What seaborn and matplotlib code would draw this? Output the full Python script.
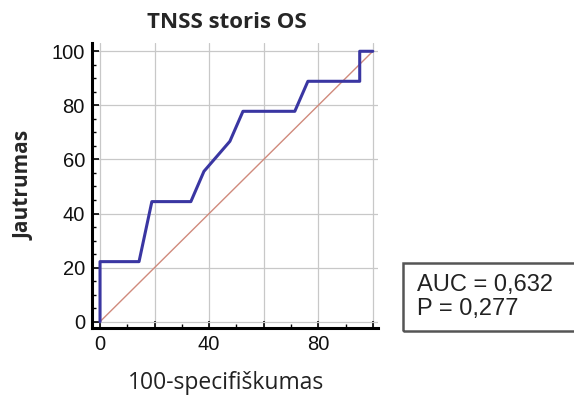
import matplotlib
matplotlib.use("Agg")
import matplotlib.pyplot as plt
import matplotlib.patches as mpatches
from matplotlib.ticker import MultipleLocator
import pandas as pd
import seaborn as sns

# ROC taskai (100-specifiškumas, jautrumas)
fpr = [0, 0, 14.3, 19.0, 33.3, 38.1, 47.6, 52.4, 71.4, 76.2, 95.2, 95.2, 100]
tpr = [0, 22.2, 22.2, 44.4, 44.4, 55.6, 66.7, 77.8, 77.8, 88.9, 88.9, 100, 100]
diag = [0, 100]
title = "TNSS storis OS"
auc_txt = "AUC = 0,632\nP = 0,277"

sns.set_style("whitegrid")
plt.rcParams['font.family'] = ['Liberation Sans', 'DejaVu Sans']

fig = plt.figure(figsize=(5.74, 3.96), dpi=100)
ax = fig.add_axes([0.160, 0.172, 0.499, 0.719])

df = pd.DataFrame({"x": fpr, "y": tpr})
sns.lineplot(data=pd.DataFrame({"x": diag, "y": diag}), x="x", y="y",
             color="#d08a7c", lw=1.0, ax=ax)
sns.lineplot(data=df, x="x", y="y", sort=False, estimator=None,
             color="#3a36a2", lw=2.2, ax=ax)

ax.set_xlim(-3, 102)
ax.set_ylim(-2.3, 103)
ax.xaxis.set_major_locator(MultipleLocator(20))
ax.yaxis.set_major_locator(MultipleLocator(20))
ax.xaxis.set_minor_locator(MultipleLocator(10))
ax.yaxis.set_minor_locator(MultipleLocator(5))
ax.set_xticks([0, 20, 40, 60, 80, 100])
ax.set_xticklabels(["0", "", "40", "", "80", ""])
ax.grid(True, which="major", color="#c8c8c8", lw=0.9)
ax.grid(False, which="minor")
ax.tick_params(axis="both", which="major", direction="in", length=5, width=1.2,
               color="black", labelsize=14.5, pad=5, labelcolor="#111111")
ax.tick_params(axis="both", which="minor", direction="in", length=3, width=1,
               color="black")
ax.tick_params(bottom=True, left=True, which="both")
for s in ["top", "right"]:
    ax.spines[s].set_visible(False)
for s in ["left", "bottom"]:
    ax.spines[s].set_color("black")
    ax.spines[s].set_linewidth(2.2)

ax.set_title(title, fontsize=16, fontweight="bold", family=["Open Sans", "DejaVu Sans"],
             pad=11, x=0.47)
ax.set_xlabel("100-specifiškumas", fontsize=16.5, family=["Open Sans", "DejaVu Sans"],
              color="#222222")
ax.xaxis.set_label_coords(0.468, -0.15)
ax.set_ylabel("Jautrumas", fontsize=15, fontweight="bold", family=["Open Sans", "DejaVu Sans"],
              labelpad=12)

box = mpatches.Rectangle((403 / 574, 1 - 331 / 396), 0.4, 68 / 396, transform=fig.transFigure,
                         fill=False, edgecolor="#555555", lw=1.8)
fig.patches.append(box)
fig.text(417 / 574, 1 - 297 / 396, auc_txt, fontsize=17, va="center", ha="left",
         linespacing=1.08, color="#222222")

fig.savefig("out.png", dpi=100)
